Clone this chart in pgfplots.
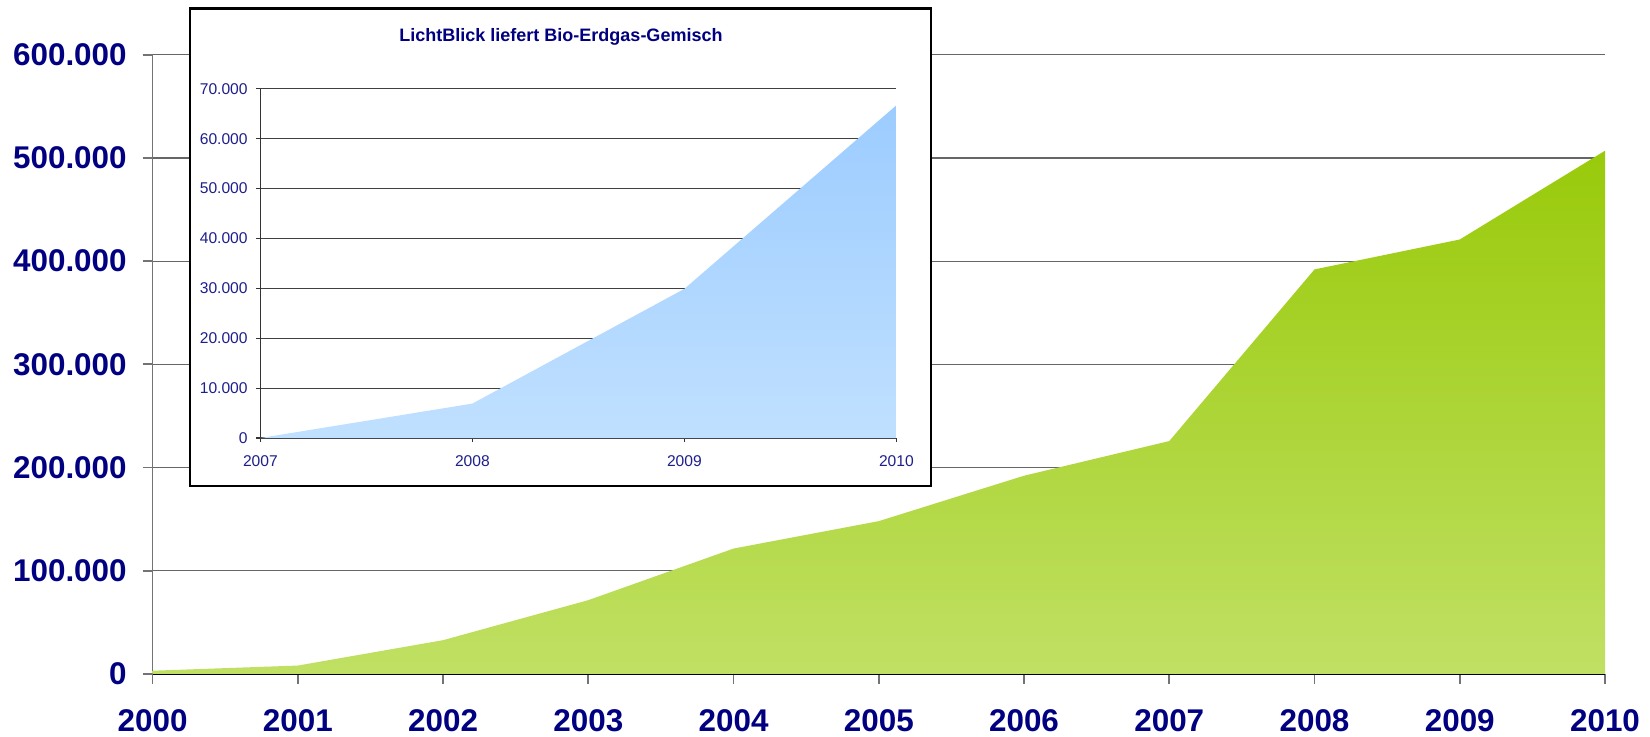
\documentclass[border=0pt]{standalone}
\usepackage{pgfplots}
\pgfplotsset{compat=1.18}
\usepackage{fontspec}
\setmainfont{Liberation Sans}
\definecolor{navy}{RGB}{0,0,128}
\definecolor{insetblue}{RGB}{30,30,140}
\definecolor{gtop}{RGB}{153,202,10}
\definecolor{gbot}{RGB}{192,224,100}
\definecolor{btop}{RGB}{156,204,255}
\definecolor{bbot}{RGB}{192,224,255}
\begin{document}
\begin{tikzpicture}
\path[use as bounding box] (0,0) rectangle (825pt,368pt);
\begin{axis}[
  at={(76.3pt,31.1pt)}, anchor=south west, scale only axis,
  width=726.2pt, height=309.5pt,
  xmin=2000, xmax=2010, ymin=0, ymax=600000,
  axis lines*=left, scaled ticks=false,
  x axis line style={black, line width=0.9pt, -},
  y axis line style={black!55, line width=0.9pt, -},
  xtick={2000,2001,2002,2003,2004,2005,2006,2007,2008,2009,2010},
  xticklabels={2000,2001,2002,2003,2004,2005,2006,2007,2008,2009,2010},
  ytick={0,100000,200000,300000,400000,500000,600000},
  yticklabels={0,100.000,200.000,300.000,400.000,500.000,600.000},
  tick align=outside, major tick length=5pt,
  tick style={black!55, line width=0.9pt},
  ymajorgrids, grid style={black!60, line width=0.6pt},
  yticklabel style={font=\fontsize{15.7}{15.7}\selectfont\bfseries, text=navy, anchor=east, inner sep=0pt, xshift=-7.8pt},
  xticklabel style={font=\fontsize{15.7}{15.7}\selectfont\bfseries, text=navy, anchor=north, inner sep=0pt, yshift=-12.5pt},
]
\addplot[draw=none, top color=gtop, bottom color=gbot] coordinates {
  (2000,3000) (2001,8000) (2002,32600) (2003,71400) (2004,121400) (2005,148000)
  (2006,192000) (2007,225600) (2008,392000) (2009,421000) (2010,507000)
} \closedcycle;
\end{axis}
\draw[black, line width=1.1pt, fill=white] (95pt,125pt) rectangle (465.5pt,363.8pt);
\node[font=\fontsize{9}{9}\selectfont\bfseries, text=navy] at (280.5pt,349.5pt) {LichtBlick liefert Bio-Erdgas-Gemisch};
\begin{axis}[
  at={(130.2pt,149pt)}, anchor=south west, scale only axis,
  width=318pt, height=174.6pt,
  xmin=2007, xmax=2010, ymin=0, ymax=70000,
  axis lines*=left, scaled ticks=false,
  axis line style={black!80, line width=0.6pt, -},
  xtick={2007,2008,2009,2010},
  xticklabels={2007,2008,2009,2010},
  ytick={0,10000,20000,30000,40000,50000,60000,70000},
  yticklabels={0,10.000,20.000,30.000,40.000,50.000,60.000,70.000},
  tick align=outside, major tick length=2pt,
  tick style={black!80, line width=0.6pt},
  ymajorgrids, grid style={black!75, line width=0.5pt},
  yticklabel style={font=\fontsize{7.8}{7.8}\selectfont, text=insetblue, anchor=east, inner sep=0pt, xshift=-4.2pt},
  xticklabel style={font=\fontsize{7.8}{7.8}\selectfont, text=insetblue, anchor=north, inner sep=0pt, yshift=-6.5pt},
]
\addplot[draw=none, top color=btop, bottom color=bbot] coordinates {
  (2007,0) (2008,6900) (2009,29900) (2010,66700)
} \closedcycle;
\end{axis}
\end{tikzpicture}
\end{document}
